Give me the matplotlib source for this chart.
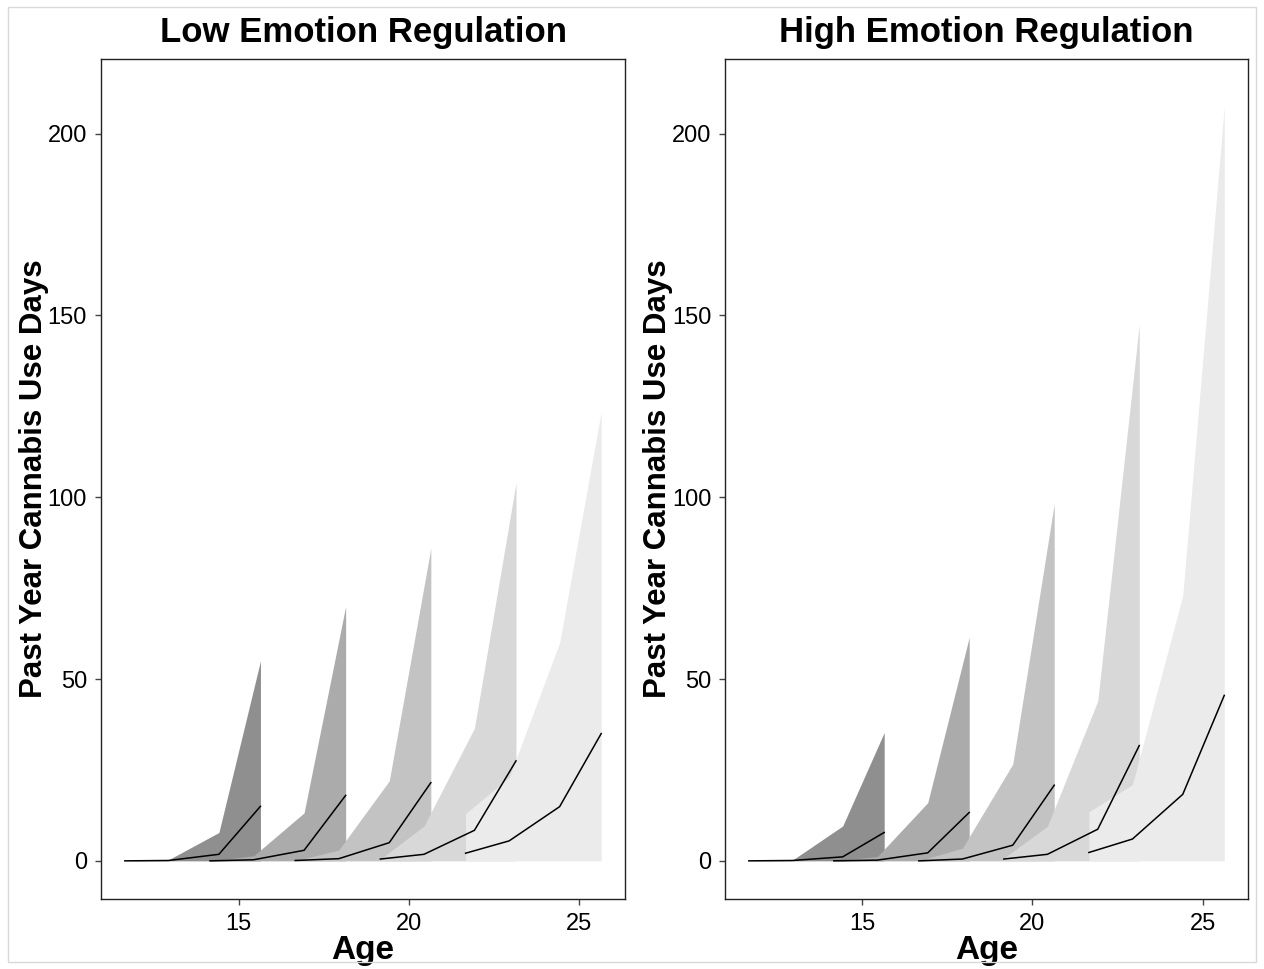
import matplotlib
matplotlib.use("Agg")
import matplotlib.pyplot as plt
from matplotlib.patches import Rectangle

plt.rcParams["font.family"] = ["Liberation Sans", "DejaVu Sans"]

# ages of the four waves for each cohort (same in both panels)
ages = [
    [11.66, 12.94, 14.42, 15.64],
    [14.16, 15.44, 16.92, 18.14],
    [16.66, 17.94, 19.42, 20.64],
    [19.16, 20.44, 21.92, 23.14],
    [21.66, 22.94, 24.42, 25.64],
]

low_median = [
    [0.0, 0.1, 1.8, 15.0],
    [0.0, 0.3, 2.9, 18.0],
    [0.1, 0.6, 5.0, 21.5],
    [0.5, 1.8, 8.4, 27.5],
    [2.1, 5.5, 14.9, 35.0],
]
low_upper = [
    [0.0, 0.3, 7.8, 55.0],
    [0.0, 1.4, 13.2, 70.0],
    [0.0, 3.0, 22.0, 86.0],
    [0.5, 9.6, 36.5, 104.0],
    [13.0, 23.0, 60.0, 123.5],
]

high_median = [
    [0.0, 0.1, 1.1, 7.8],
    [0.0, 0.2, 2.2, 13.3],
    [0.0, 0.5, 4.3, 20.8],
    [0.5, 1.8, 8.7, 31.7],
    [2.3, 6.0, 18.3, 45.5],
]
high_upper = [
    [0.0, 0.2, 9.6, 35.3],
    [0.0, 1.2, 16.0, 61.5],
    [0.0, 3.5, 26.6, 98.2],
    [0.8, 9.5, 44.0, 147.5],
    [13.5, 21.0, 73.0, 207.5],
]

lower = [0.0, 0.0, 0.0, 0.0]

fills = ["#8F8F8F", "#ABABAB", "#C3C3C3", "#D8D8D8", "#EBEBEB"]
titles = ["Low Emotion Regulation", "High Emotion Regulation"]


def draw_panel(ax, median, upper, title):
    for i in range(len(ages)):
        ax.fill_between(ages[i], lower, upper[i], color=fills[i],
                        linewidth=0, zorder=1 + i)
    for i in range(len(ages)):
        ax.plot(ages[i], median[i], color="black", linewidth=1.1, zorder=10)

    ax.set_xlim(10.96, 26.34)
    ax.set_ylim(-10.5, 220.5)
    ax.set_xticks([15, 20, 25])
    ax.set_yticks([0, 50, 100, 150, 200])
    ax.tick_params(axis="both", labelsize=17, colors="#444444",
                   labelcolor="black", length=4, width=1, pad=6)
    for s in ax.spines.values():
        s.set_color("#222222")
        s.set_linewidth(1.0)
    ax.set_title(title, fontsize=25, fontweight="bold", pad=12)
    ax.set_xlabel("Age", fontsize=24, fontweight="bold", labelpad=0)
    ax.set_ylabel("Past Year Cannabis Use Days", fontsize=22.5,
                  fontweight="bold", labelpad=-1)


fig = plt.figure(figsize=(12.64, 9.69), dpi=100)
ax1 = fig.add_axes([0.0799, 0.0722, 0.4146, 0.8669])
ax2 = fig.add_axes([0.5736, 0.0722, 0.4138, 0.8669])

draw_panel(ax1, low_median, low_upper, titles[0])
draw_panel(ax2, high_median, high_upper, titles[1])

fig.patches.append(Rectangle((8 / 1264, 7 / 969), 1248 / 1264, 955 / 969,
                             transform=fig.transFigure, fill=False,
                             edgecolor="#d9d9d9", linewidth=1))

fig.savefig("out.png", dpi=100)
